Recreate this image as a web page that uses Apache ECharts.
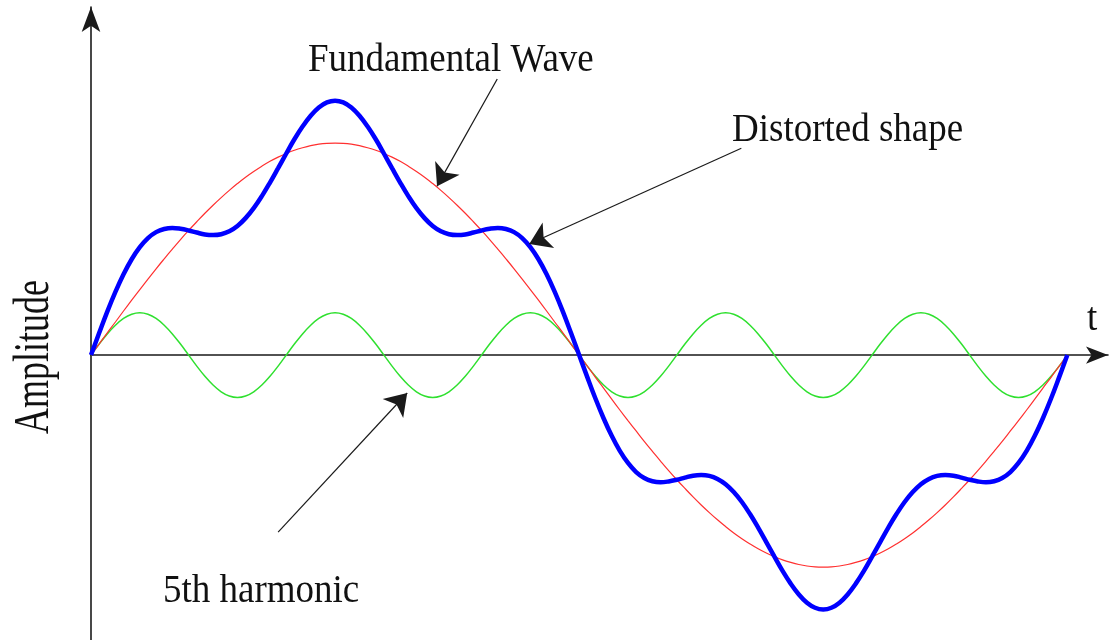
<!DOCTYPE html>
<html>
<head>
<meta charset="utf-8">
<script src="https://cdn.jsdelivr.net/npm/echarts@6/dist/echarts.min.js"></script>
<style>html,body{margin:0;padding:0;background:#fff;}#c{width:1114px;height:640px;}</style>
</head>
<body>
<div id="c"></div>
<script>
// phase angle (degrees), sampled along the time axis
var tDeg = [0,3,6,9,12,15,18,21,24,27,30,33,36,39,42,45,48,51,54,57,60,63,66,69,72,75,78,81,84,87,90,
  93,96,99,102,105,108,111,114,117,120,123,126,129,132,135,138,141,144,147,150,153,156,159,162,165,168,171,174,177,180,
  183,186,189,192,195,198,201,204,207,210,213,216,219,222,225,228,231,234,237,240,243,246,249,252,255,258,261,264,267,270,
  273,276,279,282,285,288,291,294,297,300,303,306,309,312,315,318,321,324,327,330,333,336,339,342,345,348,351,354,357,360];
// fundamental wave (red)
var fundamental = [0,0.052,0.105,0.156,0.208,0.259,0.309,0.358,0.407,0.454,0.500,0.545,0.588,0.629,0.669,0.707,0.743,0.777,0.809,0.839,0.866,0.891,0.914,0.934,0.951,0.966,0.978,0.988,0.995,0.999,1.000,
  0.999,0.995,0.988,0.978,0.966,0.951,0.934,0.914,0.891,0.866,0.839,0.809,0.777,0.743,0.707,0.669,0.629,0.588,0.545,0.500,0.454,0.407,0.358,0.309,0.259,0.208,0.156,0.105,0.052,0,
  -0.052,-0.105,-0.156,-0.208,-0.259,-0.309,-0.358,-0.407,-0.454,-0.500,-0.545,-0.588,-0.629,-0.669,-0.707,-0.743,-0.777,-0.809,-0.839,-0.866,-0.891,-0.914,-0.934,-0.951,-0.966,-0.978,-0.988,-0.995,-0.999,-1.000,
  -0.999,-0.995,-0.988,-0.978,-0.966,-0.951,-0.934,-0.914,-0.891,-0.866,-0.839,-0.809,-0.777,-0.743,-0.707,-0.669,-0.629,-0.588,-0.545,-0.500,-0.454,-0.407,-0.358,-0.309,-0.259,-0.208,-0.156,-0.105,-0.052,0];
// 5th harmonic (green)
var harmonic5 = [0,0.052,0.100,0.141,0.173,0.193,0.200,0.193,0.173,0.141,0.100,0.052,0,-0.052,-0.100,-0.141,-0.173,-0.193,-0.200,-0.193,-0.173,-0.141,-0.100,-0.052,
  0,0.052,0.100,0.141,0.173,0.193,0.200,0.193,0.173,0.141,0.100,0.052,0,-0.052,-0.100,-0.141,-0.173,-0.193,-0.200,-0.193,-0.173,-0.141,-0.100,-0.052,
  0,0.052,0.100,0.141,0.173,0.193,0.200,0.193,0.173,0.141,0.100,0.052,0,-0.052,-0.100,-0.141,-0.173,-0.193,-0.200,-0.193,-0.173,-0.141,-0.100,-0.052,
  0,0.052,0.100,0.141,0.173,0.193,0.200,0.193,0.173,0.141,0.100,0.052,0,-0.052,-0.100,-0.141,-0.173,-0.193,-0.200,-0.193,-0.173,-0.141,-0.100,-0.052,
  0,0.052,0.100,0.141,0.173,0.193,0.200,0.193,0.173,0.141,0.100,0.052,0,-0.052,-0.100,-0.141,-0.173,-0.193,-0.200,-0.193,-0.173,-0.141,-0.100,-0.052,0];
// distorted shape (blue)
var distorted = [0,0.104,0.205,0.298,0.381,0.452,0.509,0.552,0.580,0.595,0.600,0.596,0.588,0.578,0.569,0.566,0.570,0.584,0.609,0.646,0.693,0.750,0.814,0.882,0.951,1.018,1.078,1.129,1.168,1.192,1.200,
  1.192,1.168,1.129,1.078,1.018,0.951,0.882,0.814,0.750,0.693,0.646,0.609,0.584,0.570,0.566,0.569,0.578,0.588,0.596,0.600,0.595,0.580,0.552,0.509,0.452,0.381,0.298,0.205,0.104,0,
  -0.104,-0.205,-0.298,-0.381,-0.452,-0.509,-0.552,-0.580,-0.595,-0.600,-0.596,-0.588,-0.578,-0.569,-0.566,-0.570,-0.584,-0.609,-0.646,-0.693,-0.750,-0.814,-0.882,-0.951,-1.018,-1.078,-1.129,-1.168,-1.192,-1.200,
  -1.192,-1.168,-1.129,-1.078,-1.018,-0.951,-0.882,-0.814,-0.750,-0.693,-0.646,-0.609,-0.584,-0.570,-0.566,-0.569,-0.578,-0.588,-0.596,-0.600,-0.595,-0.580,-0.552,-0.509,-0.452,-0.381,-0.298,-0.205,-0.104,0];

function pairs(vals){ return tDeg.map(function(x,i){ return [x, vals[i]]; }); }

var serif = '"Liberation Serif","DejaVu Serif",serif';
var chart = echarts.init(document.getElementById('c'), null, {renderer:'canvas'});
chart.setOption({
  animation: false,
  backgroundColor: '#fff',
  grid: {left: 91, right: 6, top: 7, bottom: 0, containLabel: false},
  xAxis: {
    type: 'value', min: 0, max: 375,
    axisLine: {show: true, onZero: true, symbol: ['none','arrow'], symbolSize: [13, 22],
      lineStyle: {color: '#1a1a1a', width: 1.6}},
    axisTick: {show: false}, axisLabel: {show: false}, splitLine: {show: false}
  },
  yAxis: {
    type: 'value', min: -1.344, max: 1.642,
    axisLine: {show: true, onZero: false, symbol: ['none','arrow'], symbolSize: [14, 25],
      lineStyle: {color: '#1a1a1a', width: 1.6}},
    axisTick: {show: false}, axisLabel: {show: false}, splitLine: {show: false}
  },
  series: [
    {type: 'line', name: 'Fundamental Wave', data: pairs(fundamental), smooth: 0.4, showSymbol: false,
      lineStyle: {color: '#ff3030', width: 1.2}, z: 3},
    {type: 'line', name: '5th harmonic', data: pairs(harmonic5), smooth: 0.4, showSymbol: false,
      lineStyle: {color: '#2fe02f', width: 1.5}, z: 2,
      markLine: {
        silent: true, symbol: ['none','arrow'], symbolSize: 21,
        label: {show: false},
        lineStyle: {color: '#1a1a1a', width: 1.2, type: 'solid'},
        data: [
          [{coord: [149.8, 1.302]}, {coord: [127.6, 0.797]}],
          [{coord: [239.8, 0.976]}, {coord: [161.6, 0.524]}],
          [{coord: [69.0, -0.835]}, {coord: [116.6, -0.179]}]
        ]
      }},
    {type: 'line', name: 'Distorted shape', data: pairs(distorted), smooth: 0.4, showSymbol: false,
      lineStyle: {color: '#0000ff', width: 4.5}, z: 4}
  ],
  graphic: [
    {type: 'text', x: 308, y: 61, scaleY: 1.06, style: {text: 'Fundamental Wave', font: '37px ' + serif, fill: '#111', align: 'left', verticalAlign: 'middle'}},
    {type: 'text', x: 732, y: 131, scaleY: 1.06, style: {text: 'Distorted shape', font: '37px ' + serif, fill: '#111', align: 'left', verticalAlign: 'middle'}},
    {type: 'text', x: 163, y: 592, scaleY: 1.06, style: {text: '5th harmonic', font: '37px ' + serif, fill: '#111', align: 'left', verticalAlign: 'middle'}},
    {type: 'text', x: 1087, y: 320, scaleY: 1.06, style: {text: 't', font: '37px ' + serif, fill: '#111', align: 'left', verticalAlign: 'middle'}},
    {type: 'text', x: 35, y: 357, rotation: Math.PI / 2, scaleY: 1.39, style: {text: 'Amplitude', font: '36px ' + serif, fill: '#111', align: 'center', verticalAlign: 'middle'}}
  ]
});
</script>
</body>
</html>
